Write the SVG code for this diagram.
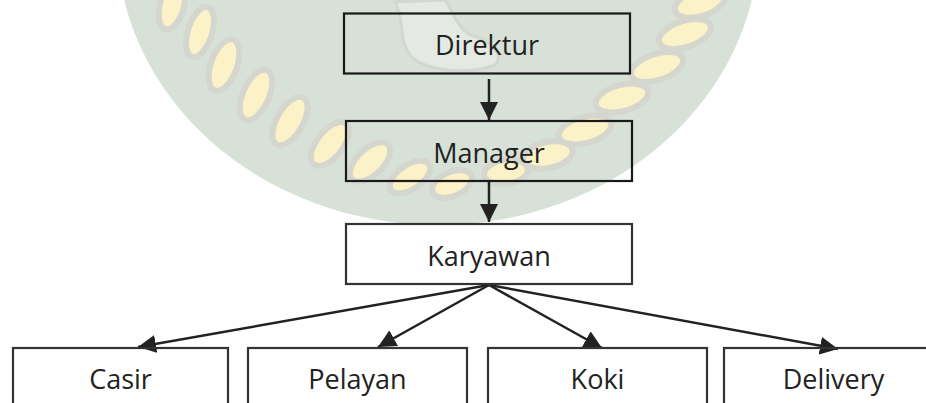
<svg xmlns="http://www.w3.org/2000/svg" width="926" height="403" viewBox="0 0 926 403">
<defs>
<style>
.box{fill:none;stroke:#1a1a1a;stroke-width:2.2}
.lbl{font-family:"Open Sans","Noto Sans",sans-serif;font-size:27px;fill:#222;text-anchor:middle}
.con{stroke:#222;stroke-width:2.5;fill:none}
.grain{fill:#fcf2c8;stroke:#d5d7cf;stroke-width:6}
</style>
<marker id="ah" markerUnits="userSpaceOnUse" markerWidth="18" markerHeight="18" viewBox="0 0 16 16" refX="16" refY="8" orient="auto">
<path d="M0,0 L16,8 L0,16 Z" fill="#222"/>
</marker>
</defs>
<rect width="926" height="403" fill="#fff"/>
<g id="watermark">
<ellipse cx="438" cy="-60" rx="321" ry="285" fill="#d7e1d7"/>
<path d="M395,2 C405,20 398,40 410,55 C425,72 470,75 495,65 C505,55 490,40 470,35 C455,25 450,5 445,0 Z" fill="#e4e9e3" stroke="#d2d7d0" stroke-width="3"/>
<g>
<ellipse class="grain" cx="172" cy="5" rx="12" ry="25" transform="rotate(15 172 5)"/>
<ellipse class="grain" cx="200" cy="32" rx="12" ry="26" transform="rotate(18 200 32)"/>
<ellipse class="grain" cx="224" cy="65" rx="13" ry="27" transform="rotate(20 224 65)"/>
<ellipse class="grain" cx="256" cy="95" rx="13" ry="27" transform="rotate(24 256 95)"/>
<ellipse class="grain" cx="290" cy="121" rx="13" ry="27" transform="rotate(30 290 121)"/>
<ellipse class="grain" cx="330" cy="144" rx="13" ry="26" transform="rotate(38 330 144)"/>
<ellipse class="grain" cx="370" cy="162" rx="13" ry="25" transform="rotate(46 370 162)"/>
<ellipse class="grain" cx="410" cy="177" rx="12" ry="23" transform="rotate(56 410 177)"/>
<ellipse class="grain" cx="452" cy="184" rx="12" ry="21" transform="rotate(66 452 184)"/>
<ellipse class="grain" cx="700" cy="3" rx="26" ry="13" transform="rotate(-18 700 3)"/>
<ellipse class="grain" cx="685" cy="34" rx="27" ry="13" transform="rotate(-18 685 34)"/>
<ellipse class="grain" cx="657" cy="67" rx="27" ry="13" transform="rotate(-18 657 67)"/>
<ellipse class="grain" cx="622" cy="98" rx="27" ry="13" transform="rotate(-15 622 98)"/>
<ellipse class="grain" cx="585" cy="130" rx="27" ry="13" transform="rotate(-15 585 130)"/>
<ellipse class="grain" cx="548" cy="155" rx="25" ry="13" transform="rotate(-12 548 155)"/>
<ellipse class="grain" cx="506" cy="172" rx="22" ry="12" transform="rotate(-8 506 172)"/>
</g>
</g>
<g id="connectors">
<line class="con" x1="489" y1="79" x2="489" y2="120" marker-end="url(#ah)"/>
<line class="con" x1="489" y1="182" x2="489" y2="222" marker-end="url(#ah)"/>
<line class="con" x1="489" y1="285" x2="138" y2="347" marker-end="url(#ah)"/>
<line class="con" x1="489" y1="285" x2="378" y2="347" marker-end="url(#ah)"/>
<line class="con" x1="489" y1="285" x2="602" y2="348" marker-end="url(#ah)"/>
<line class="con" x1="489" y1="285" x2="838" y2="349" marker-end="url(#ah)"/>
</g>
<g id="direktur">
<rect class="box" x="344" y="13.5" width="286" height="60"/>
<text class="lbl" x="487" y="55">Direktur</text>
</g>
<g id="manager">
<rect class="box" x="346" y="121" width="286" height="60"/>
<text class="lbl" x="489" y="163">Manager</text>
</g>
<g id="karyawan">
<rect class="box" x="346" y="224" width="286" height="60" style="fill:#fff;stroke:#333"/>
<text class="lbl" x="489" y="266">Karyawan</text>
</g>
<g id="casir">
<rect class="box" x="13" y="348" width="215" height="70" style="stroke:#333"/>
<text class="lbl" x="120.5" y="389">Casir</text>
</g>
<g id="pelayan">
<rect class="box" x="248" y="348" width="219" height="70" style="stroke:#333"/>
<text class="lbl" x="357.5" y="389">Pelayan</text>
</g>
<g id="koki">
<rect class="box" x="488" y="348" width="219" height="70" style="stroke:#333"/>
<text class="lbl" x="597.5" y="389">Koki</text>
</g>
<g id="delivery">
<rect class="box" x="724" y="348" width="219" height="70" style="stroke:#333"/>
<text class="lbl" x="833.5" y="389">Delivery</text>
</g>
</svg>
